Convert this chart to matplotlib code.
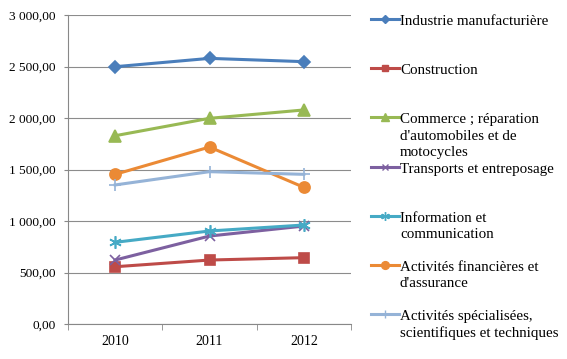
import matplotlib
matplotlib.use("Agg")
import matplotlib.pyplot as plt
from matplotlib.lines import Line2D

plt.rcParams['font.family'] = ['Liberation Serif', 'DejaVu Serif']

years = ['2010', '2011', '2012']
labels = [
    'Industrie manufacturière',
    'Construction',
    'Commerce ; réparation\nd\'automobiles et de\nmotocycles',
    'Transports et entreposage',
    'Information et\ncommunication',
    'Activités financières et\nd\'assurance',
    'Activités spécialisées,\nscientifiques et techniques',
]
industrie = [2498, 2579, 2547]
construction = [556, 621, 644]
commerce = [1828, 1997, 2078]
transports = [621, 854, 951]
information = [793, 903, 961]
financieres = [1453, 1718, 1327]
specialisees = [1350, 1479, 1453]
series = [industrie, construction, commerce, transports, information, financieres, specialisees]

colors = ['#4A7EBB', '#BE4B48', '#98B954', '#7D60A0', '#46AAC5', '#EB8A35', '#95B3D7']
markers = ['D', 's', '^', 'x', (6, 2, 0), 'o', '+']
msizes = [6, 7, 8, 7, 9, 8, 9]

fig = plt.figure(figsize=(5.67, 3.59), dpi=100)
ax = fig.add_axes([68 / 567, 1 - 324 / 359, (351 - 68) / 567, (324 - 15) / 359])

x = range(len(years))
for vals, c, m, ms in zip(series, colors, markers, msizes):
    ax.plot(x, vals, color=c, lw=2.2, marker=m, markersize=ms,
            markerfacecolor=c, markeredgecolor=c, markeredgewidth=1.2, zorder=3)

ax.set_xlim(-0.5, 2.5)
ax.set_ylim(0, 3000)
ax.set_yticks(range(0, 3001, 500))
ax.set_yticklabels(['{:,.2f}'.format(v).replace(',', ' ').replace('.', ',') for v in range(0, 3001, 500)])
ax.set_xticks(list(x))
ax.set_xticklabels(years)
ax.set_xticks([-0.5, 0.5, 1.5, 2.5], minor=True)
ax.tick_params(axis='x', which='major', length=0, pad=8, labelsize=10)
ax.tick_params(axis='x', which='minor', length=4, color='#888888', direction='out')
ax.tick_params(axis='y', length=3, color='#888888', labelsize=9.6, pad=6)
ax.grid(axis='y', color='#8c8c8c', lw=0.8)
ax.set_axisbelow(True)
for s in ['top', 'right']:
    ax.spines[s].set_visible(False)
for s in ['left', 'bottom']:
    ax.spines[s].set_color('#888888')

# manual legend, Excel style
for i, (lab, c, m, ms) in enumerate(zip(labels, colors, markers, msizes)):
    yp = 1 - (19 + 49.2 * i) / 359
    fig.add_artist(Line2D([371 / 567, 399 / 567], [yp, yp], transform=fig.transFigure,
                          color=c, lw=2.2))
    fig.add_artist(Line2D([385 / 567], [yp], transform=fig.transFigure, color=c,
                          marker=m, markersize=ms * 0.7, markerfacecolor=c,
                          markeredgecolor=c, lw=0))
    fig.text(400 / 567, yp + 4 / 359, lab, va='top', ha='left', fontsize=10.8,
             linespacing=1.32)

fig.savefig('out.png', dpi=100)
